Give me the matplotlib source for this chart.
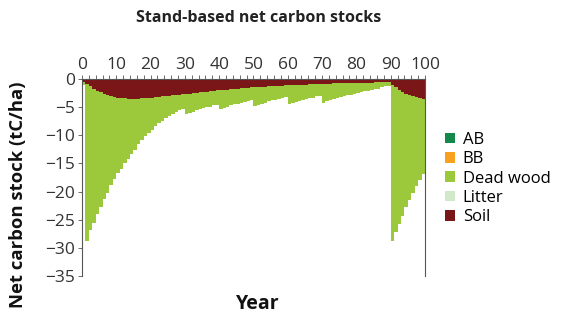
import numpy as np
import matplotlib
matplotlib.use('Agg')
import matplotlib.pyplot as plt
from matplotlib.patches import Patch

plt.rcParams['font.family'] = ['Open Sans', 'DejaVu Sans']

years = np.arange(100)

# total stock (bottom of stacked bar)
total = [-1.0, -28.7, -26.9, -25.6, -24.0, -22.7, -21.3, -20.2, -18.9, -17.8,
         -16.7, -15.9, -15.0, -14.2, -13.3, -12.6, -11.6, -10.9, -10.2, -9.6,
         -9.0, -8.4, -7.9, -7.4, -7.0, -6.6, -6.2, -5.9, -5.6, -5.4,
         -6.3, -6.0, -5.8, -5.6, -5.4, -5.2, -5.0, -4.9, -4.7, -4.6,
         -5.3, -5.1, -4.9, -4.7, -4.5, -4.4, -4.2, -4.1, -3.9, -3.8,
         -4.8, -4.6, -4.4, -4.2, -4.0, -3.8, -3.7, -3.5, -3.4, -3.2,
         -4.5, -4.3, -4.1, -3.9, -3.7, -3.6, -3.4, -3.3, -3.1, -3.0,
         -4.2, -4.0, -3.8, -3.6, -3.4, -3.2, -3.1, -2.9, -2.8, -2.6,
         -2.5, -2.4, -2.2, -2.1, -2.0, -1.8, -1.7, -1.5, -1.3, -1.2,
         -28.8, -27.2, -25.8, -24.3, -22.8, -21.5, -20.3, -19.0, -17.9, -16.9]

soil = [-0.6, -0.9, -1.3, -1.8, -2.1, -2.4, -2.7, -2.9, -3.1, -3.2,
        -3.3, -3.4, -3.45, -3.5, -3.5, -3.5, -3.5, -3.45, -3.4, -3.35,
        -3.3, -3.25, -3.2, -3.1, -3.05, -3.0, -2.9, -2.85, -2.8, -2.7,
        -2.65, -2.6, -2.5, -2.45, -2.4, -2.3, -2.25, -2.2, -2.1, -2.05,
        -2.0, -1.95, -1.9, -1.85, -1.8, -1.7, -1.65, -1.6, -1.55, -1.5,
        -1.5, -1.45, -1.4, -1.35, -1.3, -1.3, -1.25, -1.2, -1.2, -1.15,
        -1.1, -1.1, -1.05, -1.05, -1.0, -1.0, -0.95, -0.95, -0.9, -0.9,
        -0.9, -0.85, -0.85, -0.8, -0.8, -0.8, -0.75, -0.75, -0.7, -0.7,
        -0.7, -0.7, -0.65, -0.65, -0.65, -0.6, -0.6, -0.6, -0.55, -0.55,
        -1.0, -1.5, -1.95, -2.35, -2.65, -2.9, -3.1, -3.25, -3.4, -3.5]

dead_wood = [t - s for t, s in zip(total, soil)]
ab = [0.0] * 100
bb = [0.0] * 100
litter = [0.0] * 100

labels = ['AB', 'BB', 'Dead wood', 'Litter', 'Soil']
colors = ['#138a4c', '#f7a11f', '#9bc93b', '#d1e8c9', '#7a1518']

fig = plt.figure(figsize=(5.63, 3.17), dpi=100)
ax = fig.add_axes([0.1456, 0.129, 0.6092, 0.622])

ax.bar(years, soil, width=1, align='edge', color=colors[4], linewidth=0)
ax.bar(years, dead_wood, bottom=soil, width=1, align='edge', color=colors[2], linewidth=0)
ax.bar(years, litter, bottom=total, width=1, align='edge', color=colors[3], linewidth=0)
ax.bar(years, ab, bottom=total, width=1, align='edge', color=colors[0], linewidth=0)
ax.bar(years, bb, bottom=total, width=1, align='edge', color=colors[1], linewidth=0)

ax.set_xlim(0, 100)
ax.set_ylim(-35, 0)
ax.xaxis.tick_top()
ax.set_xticks(range(0, 101, 10))
ax.set_xticks(range(0, 101, 2), minor=True)
ax.set_yticks(range(-35, 1, 5))

spine_c = '#555555'
for s in ['left', 'right', 'top']:
    ax.spines[s].set_color(spine_c)
    ax.spines[s].set_linewidth(0.8)
ax.spines['bottom'].set_visible(False)

ax.tick_params(axis='x', which='both', top=True, bottom=False, direction='out',
               length=3, width=0.6, color=spine_c, labelsize=12.5,
               labelcolor='#333333', pad=1)
ax.tick_params(axis='y', direction='out', length=3, width=0.6, color=spine_c,
               labelsize=12.5, labelcolor='#333333', pad=2)

fig.text(0.46, 0.943, 'Stand-based net carbon stocks', ha='center', va='center',
         fontsize=11.5, fontweight='bold', color='#222222')
fig.text(0.032, 0.385, 'Net carbon stock (tC/ha)', rotation=90, ha='center', va='center',
         fontsize=13.3, fontweight='bold', color='#111111')
fig.text(0.458, 0.04, 'Year', ha='center', va='center',
         fontsize=14, fontweight='bold', color='#111111')

handles = [Patch(facecolor=c, edgecolor='none') for c in colors]
fig.legend(handles, labels, loc='upper left', bbox_to_anchor=(0.776, 0.61),
           frameon=False, fontsize=12, handlelength=0.6, handleheight=0.6,
           handletextpad=0.45, labelspacing=0.2, borderpad=0)

fig.savefig('out.png', dpi=100)
